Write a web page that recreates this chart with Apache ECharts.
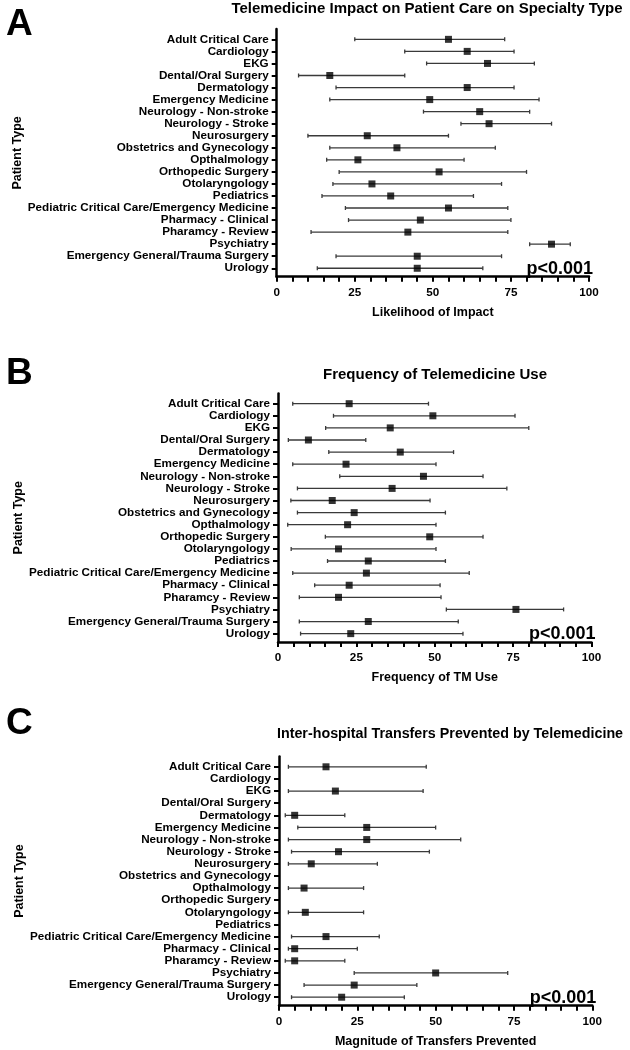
<!DOCTYPE html>
<html>
<head>
<meta charset="utf-8">
<script src="https://cdn.jsdelivr.net/npm/echarts@6/dist/echarts.min.js"></script>
<style>html,body{margin:0;padding:0;background:#fff}#c{width:630px;height:1050px}</style>
</head>
<body>
<div id="c"></div>
<script>
const categories = ["Adult Critical Care","Cardiology","EKG","Dental/Oral Surgery","Dermatology","Emergency Medicine","Neurology - Non-stroke","Neurology - Stroke","Neurosurgery","Obstetrics and Gynecology","Opthalmology","Orthopedic Surgery","Otolaryngology","Pediatrics","Pediatric Critical Care/Emergency Medicine","Pharmacy - Clinical","Pharamcy - Review","Psychiatry","Emergency General/Trauma Surgery","Urology"];
const xTicks = [0, 25, 50, 75, 100];

// Panel A: Likelihood of Impact
const impactMean = [55, 61, 67.5, 17, 61, 49, 65, 68, 29, 38.5, 26, 52, 30.5, 36.5, 55, 46, 42, 88, 45, 45];
const impactLow  = [25, 41, 48, 7, 19, 17, 47, 59, 10, 17, 16, 20, 18, 14.5, 22, 23, 11, 81, 19, 13];
const impactHigh = [73, 76, 82.5, 41, 76, 84, 81, 88, 55, 70, 60, 80, 72, 63, 74, 75, 74, 94, 72, 66];

// Panel B: Frequency of TM Use
const freqMean = [22.7, 49.4, 35.8, 9.7, 39, 21.7, 46.4, 36.4, 17.3, 24.3, 22.2, 48.4, 19.3, 28.8, 28.2, 22.7, 19.3, 75.9, 28.8, 23.2];
const freqLow  = [4.7, 17.7, 15.2, 3.3, 16.2, 4.7, 19.7, 6.2, 4.1, 6.2, 3.1, 15.1, 4.2, 15.8, 4.7, 11.7, 6.8, 53.7, 6.8, 7.2];
const freqHigh = [48, 75.6, 80, 28, 56, 50.4, 65.4, 73, 48.5, 53.4, 50.4, 65.4, 50.4, 53.4, 61, 51.7, 52, 91.1, 57.5, 59];

// Panel C: Magnitude of Transfers Prevented (null = no data)
const transMean = [15, null, 18, null, 5, 28, 28, 19, 10.3, null, 8, null, 8.4, null, 15, 5, 5, 50, 24, 20];
const transLow  = [3, null, 3, null, 2, 6, 3, 4, 3, null, 3, null, 3, null, 4, 3, 2, 24, 8, 4];
const transHigh = [47, null, 46, null, 21, 50, 58, 48, 31.4, null, 27, null, 27, null, 32, 25, 21, 73, 44, 40];

const panels = [
  {letter: "A", title: "Telemedicine Impact on Patient Care on Specialty Type", xName: "Likelihood of Impact",
   mean: impactMean, low: impactLow, high: impactHigh, titleSize: 15,
   grid: {left: 276.7, top: 29.1, width: 312.3, height: 247.6}, titleX: 427, titleY: 9, letterY: 25},
  {letter: "B", title: "Frequency of Telemedicine Use", xName: "Frequency of TM Use",
   mean: freqMean, low: freqLow, high: freqHigh, titleSize: 15,
   grid: {left: 278, top: 393.4, width: 313.5, height: 248.7}, titleX: 435, titleY: 375, letterY: 374},
  {letter: "C", title: "Inter-hospital Transfers Prevented by Telemedicine", xName: "Magnitude of Transfers Prevented",
   mean: transMean, low: transLow, high: transHigh, titleSize: 14.3,
   grid: {left: 279, top: 756.5, width: 313.3, height: 249.2}, titleX: 450, titleY: 734, letterY: 724}
];

const FONT = "'Liberation Sans', Arial, Helvetica, sans-serif";
const idx = categories.map((_, i) => i);

const option = {
  animation: false,
  backgroundColor: '#fff',
  textStyle: {fontFamily: FONT},
  grid: [], xAxis: [], yAxis: [], series: [], graphic: []
};

panels.forEach((p, k) => {
  option.grid.push(Object.assign({containLabel: false}, p.grid));
  option.xAxis.push({
    type: 'value', gridIndex: k, min: xTicks[0], max: xTicks[xTicks.length - 1], interval: 25,
    axisLine: {show: true, onZero: false, lineStyle: {color: '#000', width: 2.5}},
    axisTick: {show: true, length: 5, lineStyle: {color: '#000', width: 2}},
    minorTick: {show: true, splitNumber: 5, length: 5, lineStyle: {color: '#000', width: 2}},
    splitLine: {show: false}, minorSplitLine: {show: false},
    axisLabel: {color: '#000', fontWeight: 'bold', fontSize: 11.7, fontFamily: FONT, margin: 10},
    name: p.xName, nameLocation: 'middle', nameGap: 29,
    nameTextStyle: {color: '#000', fontWeight: 'bold', fontSize: 12.5, fontFamily: FONT}
  });
  option.yAxis.push({
    type: 'value', gridIndex: k, inverse: true, min: -0.85, max: 19.7,
    axisLine: {show: true, onZero: false, lineStyle: {color: '#000', width: 2.5}},
    axisTick: {show: true, length: 5, customValues: idx, lineStyle: {color: '#000', width: 2}},
    splitLine: {show: false},
    axisLabel: {show: true, customValues: idx, formatter: v => categories[Math.round(v)] || '',
      color: '#000', fontWeight: 'bold', fontSize: 11.7, fontFamily: FONT, margin: 8},
    name: 'Patient Type', nameLocation: 'middle', nameGap: 253, nameRotate: 90,
    nameTextStyle: {color: '#000', fontWeight: 'bold', fontSize: 12.5, fontFamily: FONT}
  });
  const barData = [], ptData = [];
  categories.forEach((c, i) => {
    if (p.mean[i] != null) {
      barData.push([p.low[i], p.high[i], i]);
      ptData.push([p.mean[i], i]);
    }
  });
  option.series.push({
    type: 'custom', xAxisIndex: k, yAxisIndex: k, data: barData,
    encode: {x: [0, 1], y: 2},
    renderItem: function (params, api) {
      const a = api.coord([api.value(0), api.value(2)]);
      const b = api.coord([api.value(1), api.value(2)]);
      const h = 2;
      const st = {stroke: '#3a3a3a', lineWidth: 1.3};
      return {type: 'group', children: [
        {type: 'line', shape: {x1: a[0], y1: a[1], x2: b[0], y2: b[1]}, style: st},
        {type: 'line', shape: {x1: a[0], y1: a[1] - h, x2: a[0], y2: a[1] + h}, style: st},
        {type: 'line', shape: {x1: b[0], y1: b[1] - h, x2: b[0], y2: b[1] + h}, style: st}
      ]};
    },
    z: 2
  });
  option.series.push({
    type: 'scatter', xAxisIndex: k, yAxisIndex: k, data: ptData,
    symbol: 'rect', symbolSize: 7, itemStyle: {color: '#000'}, z: 3
  });
  const g = p.grid;
  option.graphic.push(
    {type: 'text', left: 6, top: p.letterY - 19, style: {text: p.letter, font: "bold 37px " + FONT, fill: '#000'}},
    {type: 'text', x: p.titleX, y: p.titleY, style: {text: p.title, font: "bold " + p.titleSize + "px " + FONT, fill: '#000', align: 'center', verticalAlign: 'middle'}},
    {type: 'text', x: g.left + g.width + 4, y: g.top + g.height + 1, style: {text: 'p<0.001', font: "bold 18px " + FONT, fill: '#000', align: 'right', verticalAlign: 'bottom'}, z: 10}
  );
});

const chart = echarts.init(document.getElementById('c'), null, {renderer: 'canvas'});
chart.setOption(option);
</script>
</body>
</html>
